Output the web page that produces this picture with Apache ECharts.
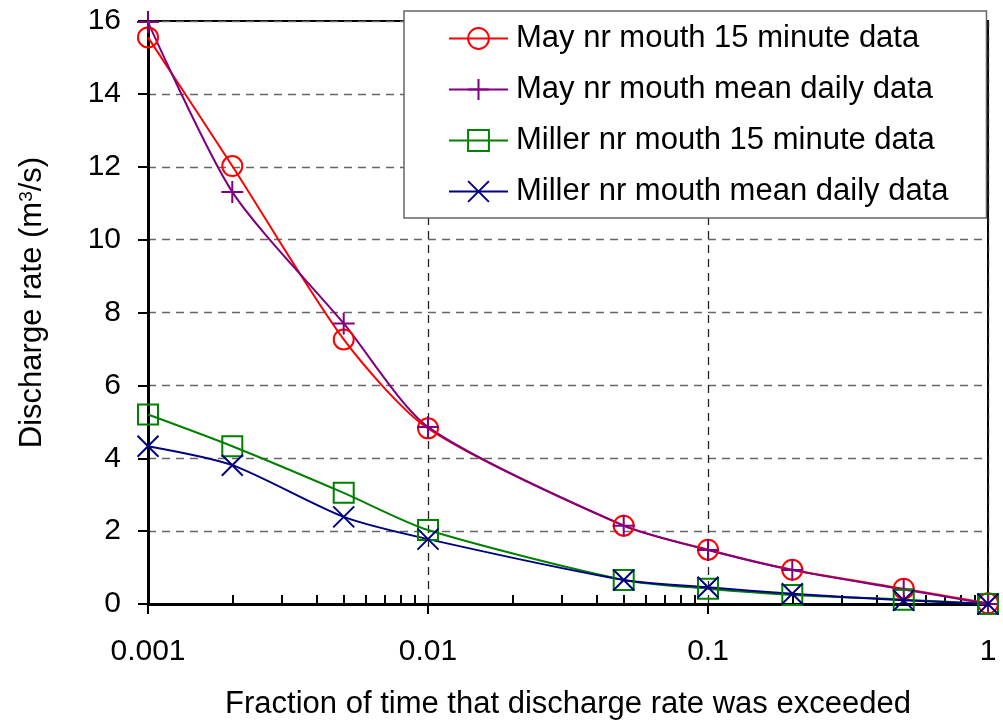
<!DOCTYPE html>
<html><head><meta charset="utf-8">
<script src="https://cdn.jsdelivr.net/npm/echarts@6/dist/echarts.min.js"></script>
<style>html,body{margin:0;padding:0;background:#fff}#c{width:1003px;height:725px}</style>
</head><body><div id="c"></div>
<script>
const xValues = [0.001, 0.002, 0.005, 0.01, 0.05, 0.1, 0.2, 0.5, 1];
const mayQuarter = [15.55, 12.02, 7.26, 4.82, 2.15, 1.49, 0.94, 0.42, 0.02];
const mayDaily = [15.97, 11.31, 7.70, 4.86, 2.15, 1.48, 0.93, 0.40, 0.0];
const millerQuarter = [5.20, 4.33, 3.05, 2.03, 0.66, 0.42, 0.25, 0.12, 0.0];
const millerDaily = [4.33, 3.81, 2.39, 1.78, 0.66, 0.46, 0.28, 0.10, 0.0];
const seriesNames = ['May nr mouth 15 minute data', 'May nr mouth mean daily data', 'Miller nr mouth 15 minute data', 'Miller nr mouth mean daily data'];
const xMajorTicks = [0.001, 0.01, 0.1, 1];
const xMinorTicks = [0.002,0.003,0.004,0.005,0.006,0.007,0.008,0.009,0.02,0.03,0.04,0.05,0.06,0.07,0.08,0.09,0.2,0.3,0.4,0.5,0.6,0.7,0.8,0.9];
const yTicks = [0, 2, 4, 6, 8, 10, 12, 14, 16];

const font = '"Liberation Sans", Arial, sans-serif';
const pair = arr => xValues.map((x, i) => [x, arr[i]]);
const plusPath = 'path://M10,0L10,20M0,10L20,10';
const crossPath = 'path://M0,0L20,20M20,0L0,20';

function mk(name, data, color, symbol, size) {
  return {
    name, type: 'line', data: pair(data), xAxisIndex: 0,
    smooth: 0.25,
    symbol, symbolSize: size, showAllSymbol: true,
    lineStyle: { color, width: 2 },
    itemStyle: { color: 'rgba(0,0,0,0)', borderColor: color, borderWidth: 2 },
    emphasis: { disabled: true },
    z: 3
  };
}

const chart = echarts.init(document.getElementById('c'), null, { renderer: 'canvas' });
chart.setOption({
  animation: false,
  backgroundColor: '#fff',
  textStyle: { fontFamily: font },
  grid: { left: 148, right: 15, top: 21, bottom: 118, show: true, borderColor: '#000', borderWidth: 2, backgroundColor: 'transparent' },
  legend: {
    left: 404, top: 11, orient: 'vertical',
    padding: [12, 38, 11, 44], itemGap: 20, itemWidth: 59, itemHeight: 26,
    backgroundColor: '#fff', borderColor: '#666', borderWidth: 1.5,
    textStyle: { fontSize: 31, color: '#000', fontFamily: font, padding: [0, 0, 0, 3] },
    data: seriesNames
  },
  xAxis: [{
    type: 'log', logBase: 10, min: 0.001, max: 1,
    name: 'Fraction of time that discharge rate was exceeded',
    nameLocation: 'middle', nameGap: 85,
    nameTextStyle: { fontSize: 31, color: '#000', fontFamily: font },
    axisLine: { show: true, onZero: false, lineStyle: { color: '#000', width: 3 } },
    axisTick: { show: true, inside: false, length: 10, lineStyle: { color: '#000', width: 2 }, customValues: xMajorTicks },
    axisLabel: { fontSize: 30, color: '#000', margin: 33, fontFamily: font, customValues: xMajorTicks,
      formatter: v => String(+v.toPrecision(3)) },
    splitLine: { show: true, lineStyle: { color: '#222', width: 1.3, type: [8, 6] } },
    minorTick: { show: false }
  }, {
    type: 'log', logBase: 10, min: 0.001, max: 1, position: 'bottom',
    axisLine: { show: false },
    axisTick: { show: true, inside: true, length: 9, lineStyle: { color: '#000', width: 2 }, customValues: xMinorTicks },
    axisLabel: { show: false },
    splitLine: { show: false }
  }],
  yAxis: {
    type: 'value', min: 0, max: 16, interval: 2,
    name: 'Discharge rate (m{sup|3}/s)',
    nameLocation: 'middle', nameGap: 100, nameRotate: 90,
    nameTextStyle: { fontSize: 31, color: '#000', fontFamily: font, padding: [0, 0, 0, 20],
      rich: { sup: { fontSize: 19, verticalAlign: 'top', lineHeight: 16, fontFamily: font, color: '#000' } } },
    axisLine: { show: true, lineStyle: { color: '#000', width: 3 } },
    axisTick: { show: true, inside: false, length: 10, lineStyle: { color: '#000', width: 2 } },
    axisLabel: { fontSize: 30, color: '#000', margin: 27, fontFamily: font,
      customValues: yTicks },
    splitLine: { show: true, lineStyle: { color: '#666', width: 1.3, type: [8, 6] } }
  },
  series: [
    mk(seriesNames[0], mayQuarter, '#ff0000', 'circle', 20),
    mk(seriesNames[1], mayDaily, '#800080', plusPath, 22),
    mk(seriesNames[2], millerQuarter, '#008000', 'rect', 20),
    mk(seriesNames[3], millerDaily, '#000080', crossPath, 21)
  ]
});
</script></body></html>
